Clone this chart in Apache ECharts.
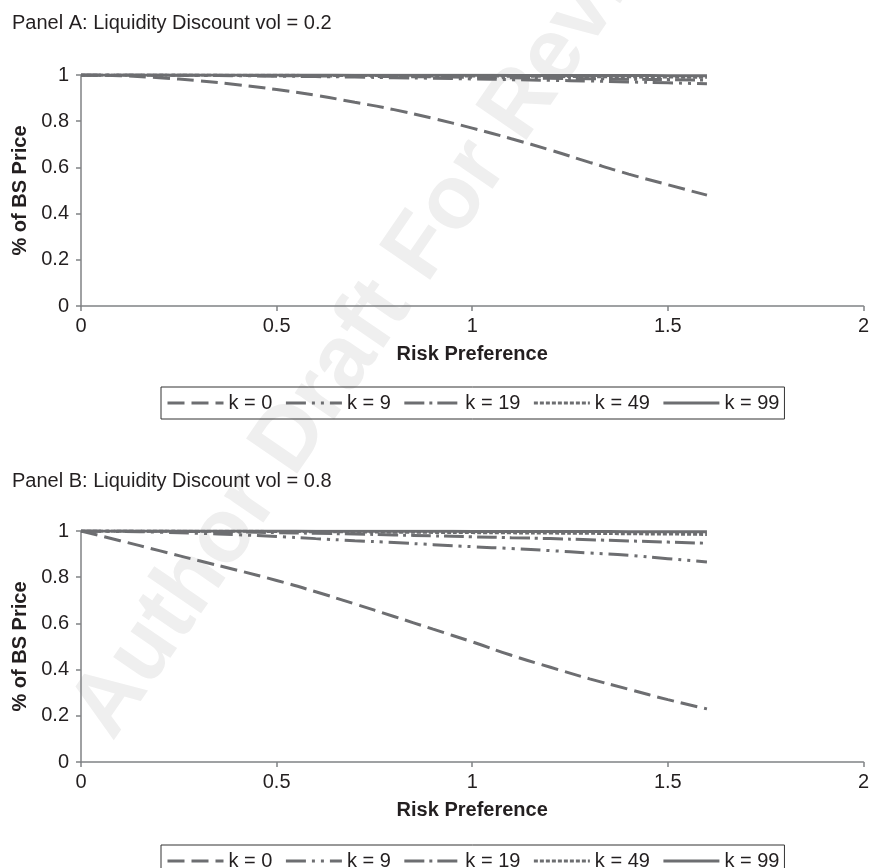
<!DOCTYPE html>
<html>
<head>
<meta charset="utf-8">
<title>Liquidity Discount</title>
<script src="https://cdn.jsdelivr.net/npm/echarts@6/dist/echarts.min.js"></script>
<style>
  html, body { margin: 0; padding: 0; background: #fff; }
  #chart { width: 872px; height: 868px; }
</style>
</head>
<body>
<div id="chart"></div>
<script>
// risk preference grid (x)
const riskPref = [0, 0.1, 0.2, 0.3, 0.4, 0.5, 0.6, 0.7, 0.8, 0.9, 1.0, 1.1, 1.2, 1.3, 1.4, 1.5, 1.6];
const seriesNames = ['k = 0', 'k = 9', 'k = 19', 'k = 49', 'k = 99'];
const xTicks = [0, 0.5, 1, 1.5, 2];
const yTicks = [0, 0.2, 0.4, 0.6, 0.8, 1];

// Panel A: vol = 0.2
const panelA_k0 = [1, 0.997, 0.988, 0.975, 0.958, 0.937, 0.912, 0.882, 0.85, 0.812, 0.77, 0.724, 0.675, 0.622, 0.571, 0.525, 0.48];
const panelA_k9 = [1, 1, 0.999, 0.998, 0.997, 0.995, 0.993, 0.991, 0.988, 0.986, 0.983, 0.98, 0.977, 0.974, 0.97, 0.966, 0.962];
const panelA_k19 = [1, 1, 1, 0.999, 0.998, 0.997, 0.996, 0.995, 0.993, 0.992, 0.99, 0.988, 0.986, 0.984, 0.982, 0.98, 0.978];
const panelA_k49 = [1, 1, 1, 1, 0.999, 0.999, 0.998, 0.998, 0.997, 0.996, 0.996, 0.995, 0.994, 0.993, 0.992, 0.991, 0.99];
const panelA_k99 = [1, 1, 1, 1, 1, 1, 1, 0.999, 0.999, 0.999, 0.999, 0.998, 0.998, 0.998, 0.998, 0.997, 0.997];

// Panel B: vol = 0.8
const panelB_k0 = [1, 0.958, 0.915, 0.872, 0.83, 0.786, 0.737, 0.684, 0.63, 0.575, 0.52, 0.462, 0.41, 0.36, 0.315, 0.27, 0.23];
const panelB_k9 = [1, 0.998, 0.995, 0.99, 0.984, 0.976, 0.967, 0.958, 0.95, 0.941, 0.932, 0.924, 0.915, 0.905, 0.895, 0.88, 0.866];
const panelB_k19 = [1, 1, 0.999, 0.998, 0.996, 0.993, 0.99, 0.987, 0.983, 0.979, 0.975, 0.971, 0.967, 0.962, 0.957, 0.952, 0.947];
const panelB_k49 = [1, 1, 1, 0.999, 0.999, 0.998, 0.997, 0.996, 0.995, 0.994, 0.993, 0.992, 0.991, 0.99, 0.988, 0.987, 0.985];
const panelB_k99 = [1, 1, 1, 1, 1, 1, 0.999, 0.999, 0.999, 0.999, 0.998, 0.998, 0.998, 0.998, 0.997, 0.997, 0.997];

const lineColor = '#6d6e71';
const axisColor = '#808285';
const textColor = '#231f20';
const font = "'Liberation Sans', Arial, sans-serif";

// dash patterns, same order as seriesNames
const dashes = [[17, 7], [20, 6, 3, 6, 3, 6], [20, 5, 3, 5], [4, 2], 'solid'];

const pair = (ys) => riskPref.map((x, i) => [x, ys[i]]);

const makeSeries = (idx, list) =>
  list.map((ys, i) => ({
    name: seriesNames[i],
    type: 'line',
    xAxisIndex: idx,
    yAxisIndex: idx,
    data: pair(ys),
    symbol: 'none',
    smooth: true,
    z: 3 + (4 - i),
    lineStyle: { color: lineColor, width: 3, type: dashes[i] },
    itemStyle: { color: lineColor }
  }));

const xAxisOf = (idx) => ({
  type: 'value',
  gridIndex: idx,
  min: 0,
  max: 2,
  interval: 0.5,
  name: 'Risk Preference',
  nameLocation: 'middle',
  nameGap: 38,
  nameTextStyle: { fontFamily: font, fontSize: 20, fontWeight: 'bold', color: textColor },
  axisLine: { onZero: false, lineStyle: { color: axisColor, width: 1.5 } },
  axisTick: { show: true, length: 5, lineStyle: { color: axisColor, width: 1.5 } },
  axisLabel: { fontFamily: font, fontSize: 20, color: textColor, margin: 10 },
  splitLine: { show: false }
});

const yAxisOf = (idx) => ({
  type: 'value',
  gridIndex: idx,
  min: 0,
  max: 1,
  interval: 0.2,
  name: '% of BS Price',
  nameLocation: 'middle',
  nameGap: 47,
  nameTextStyle: { fontFamily: font, fontSize: 20, fontWeight: 'bold', color: textColor },
  axisLine: { show: true, lineStyle: { color: axisColor, width: 1.5 } },
  axisTick: { show: true, length: 5, lineStyle: { color: axisColor, width: 1.5 } },
  axisLabel: { fontFamily: font, fontSize: 20, color: textColor, margin: 12 },
  splitLine: { show: false }
});

const legendOf = (top) => ({
  data: seriesNames,
  left: 161,
  top: top,
  orient: 'horizontal',
  selectedMode: false,
  borderColor: '#333',
  borderWidth: 1,
  padding: [6, 5],
  itemGap: 12,
  itemWidth: 56,
  itemHeight: 14,
  itemStyle: { opacity: 0 },
  lineStyle: { width: 3 },
  textStyle: { fontFamily: font, fontSize: 20, color: textColor }
});

const chart = echarts.init(document.getElementById('chart'));

chart.setOption({
  backgroundColor: '#fff',
  animation: false,
  title: [
    {
      text: 'Panel A: Liquidity Discount vol = 0.2',
      left: 12, top: 13, padding: 0,
      textStyle: { fontFamily: font, fontSize: 20, fontWeight: 'normal', color: textColor }
    },
    {
      text: 'Panel B: Liquidity Discount vol = 0.8',
      left: 12, top: 471, padding: 0,
      textStyle: { fontFamily: font, fontSize: 20, fontWeight: 'normal', color: textColor }
    }
  ],
  graphic: [
    {
      type: 'text',
      x: 92,
      y: 728,
      rotation: 55.5 * Math.PI / 180,
      z: -10,
      silent: true,
      style: {
        text: 'Author Draft For Review',
        fontFamily: font,
        fontSize: 90,
        fontWeight: 'bold',
        fill: '#efefef',
        textAlign: 'left',
        textVerticalAlign: 'middle'
      }
    }
  ],
  legend: [legendOf(387), legendOf(845)],
  grid: [
    { left: 81, top: 75, width: 785, height: 231 },
    { left: 81, top: 531, width: 785, height: 231 }
  ],
  xAxis: [xAxisOf(0), xAxisOf(1)],
  yAxis: [yAxisOf(0), yAxisOf(1)],
  series: [
    ...makeSeries(0, [panelA_k0, panelA_k9, panelA_k19, panelA_k49, panelA_k99]),
    ...makeSeries(1, [panelB_k0, panelB_k9, panelB_k19, panelB_k49, panelB_k99])
  ]
});
</script>
</body>
</html>
